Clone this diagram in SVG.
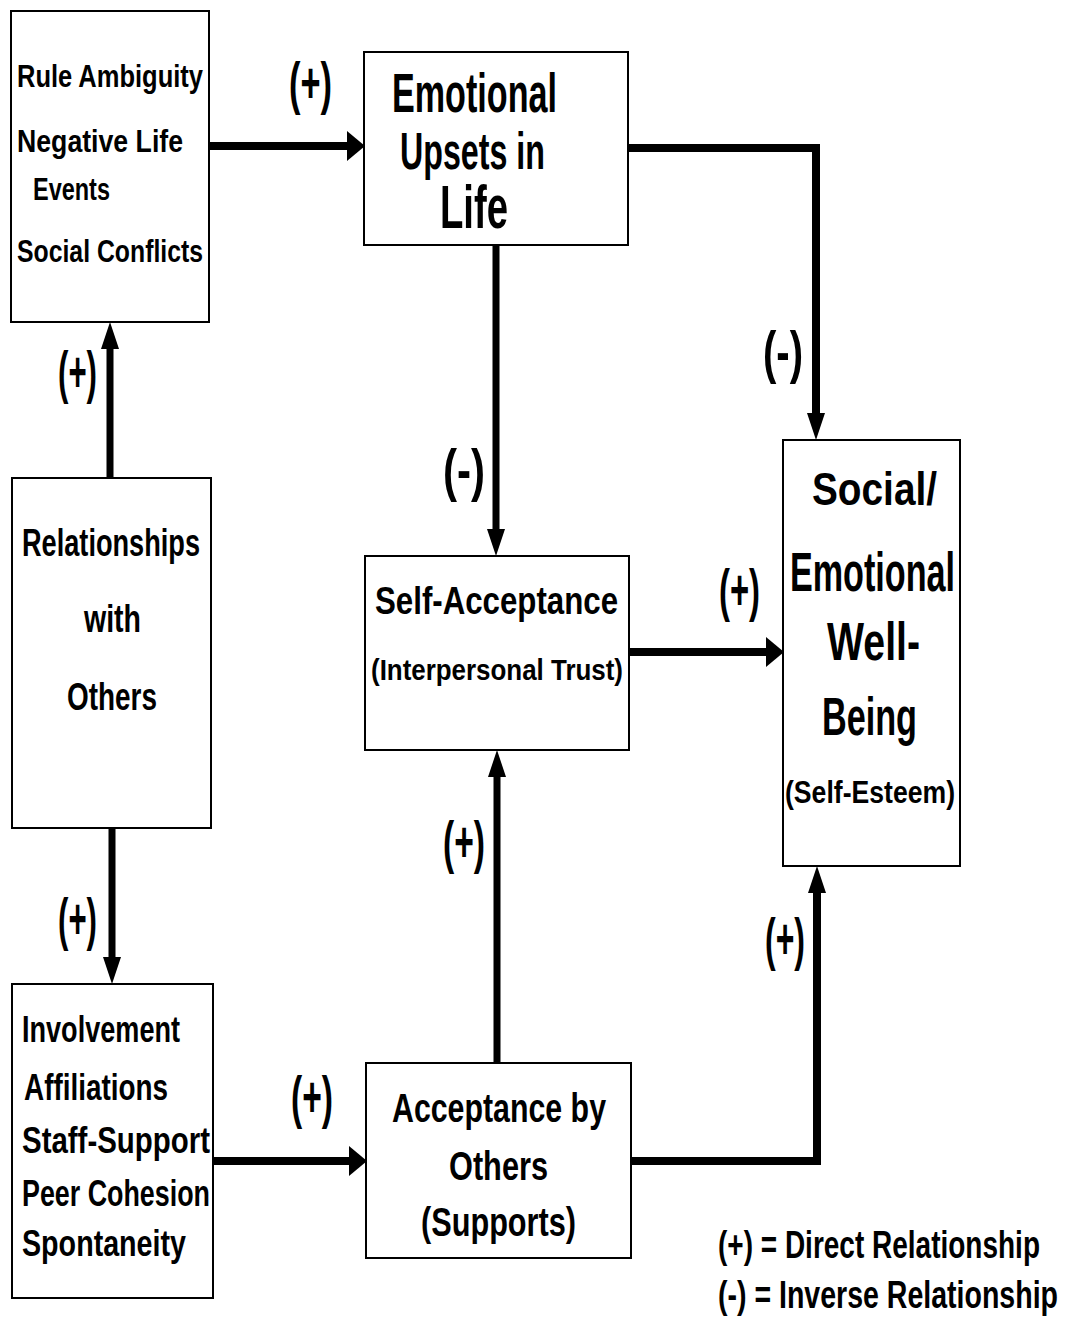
<svg xmlns="http://www.w3.org/2000/svg" width="1072" height="1324" viewBox="0 0 1072 1324">
<style>
.box{fill:#fff;stroke:#000;stroke-width:2}
.t{font-family:"Liberation Sans Narrow","Liberation Sans",Arial,sans-serif;font-weight:bold;fill:#000}
.c{fill:none;stroke:#000;stroke-width:8;stroke-linejoin:miter}
.v{stroke-width:7}
</style>
<defs>
<marker id="wide" markerUnits="userSpaceOnUse" viewBox="0 0 18 30" refX="0" refY="15" markerWidth="18" markerHeight="30" orient="auto">
<path d="M0,0 L18,15 L0,30 Z" fill="#000"/>
</marker>
<marker id="long" markerUnits="userSpaceOnUse" viewBox="0 0 27 18" refX="0" refY="9" markerWidth="27" markerHeight="18" orient="auto">
<path d="M0,0 L27,9 L0,18 Z" fill="#000"/>
</marker>
</defs>
<rect width="1072" height="1324" fill="#fff"/>

<g id="connectors">
<path class="c" d="M209,146 H347" marker-end="url(#wide)"/>
<path class="c" d="M628,148 H816 V413" marker-end="url(#long)"/>
<path class="c v" d="M496,245 V529" marker-end="url(#long)"/>
<path class="c" d="M629,652 H766" marker-end="url(#wide)"/>
<path class="c v" d="M497,1063 V777" marker-end="url(#long)"/>
<path class="c" d="M631,1161 H817 V893" marker-end="url(#long)"/>
<path class="c v" d="M110,478 V349" marker-end="url(#long)"/>
<path class="c v" d="M112,828 V957" marker-end="url(#long)"/>
<path class="c" d="M213,1161 H349" marker-end="url(#wide)"/>
</g>

<g id="stressors">
<rect class="box" x="11" y="11" width="198" height="311"/>
<text class="t" x="17" y="87" font-size="31" textLength="186" lengthAdjust="spacingAndGlyphs">Rule Ambiguity</text>
<text class="t" x="17" y="152" font-size="32" textLength="166" lengthAdjust="spacingAndGlyphs">Negative Life</text>
<text class="t" x="33" y="200" font-size="32" textLength="77" lengthAdjust="spacingAndGlyphs">Events</text>
<text class="t" x="17" y="262" font-size="32" textLength="186" lengthAdjust="spacingAndGlyphs">Social Conflicts</text>
</g>

<g id="upsets">
<rect class="box" x="364" y="52" width="264" height="193"/>
<text class="t" x="392" y="112" font-size="56" textLength="165" lengthAdjust="spacingAndGlyphs">Emotional</text>
<text class="t" x="400" y="169" font-size="52" textLength="145" lengthAdjust="spacingAndGlyphs">Upsets in</text>
<text class="t" x="440" y="228" font-size="62" textLength="68" lengthAdjust="spacingAndGlyphs">Life</text>
</g>

<g id="relationships">
<rect class="box" x="12" y="478" width="199" height="350"/>
<text class="t" x="22" y="556" font-size="38" textLength="178" lengthAdjust="spacingAndGlyphs">Relationships</text>
<text class="t" x="84" y="632" font-size="38" textLength="57" lengthAdjust="spacingAndGlyphs">with</text>
<text class="t" x="67" y="710" font-size="38" textLength="90" lengthAdjust="spacingAndGlyphs">Others</text>
</g>

<g id="involvement">
<rect class="box" x="12" y="984" width="201" height="314"/>
<text class="t" x="22" y="1042" font-size="36" textLength="158" lengthAdjust="spacingAndGlyphs">Involvement</text>
<text class="t" x="24" y="1100" font-size="36" textLength="144" lengthAdjust="spacingAndGlyphs">Affiliations</text>
<text class="t" x="22" y="1153" font-size="36" textLength="188" lengthAdjust="spacingAndGlyphs">Staff-Support</text>
<text class="t" x="22" y="1206" font-size="36" textLength="188" lengthAdjust="spacingAndGlyphs">Peer Cohesion</text>
<text class="t" x="22" y="1256" font-size="36" textLength="164" lengthAdjust="spacingAndGlyphs">Spontaneity</text>
</g>

<g id="self-acceptance">
<rect class="box" x="365" y="556" width="264" height="194"/>
<text class="t" x="375" y="614" font-size="38" textLength="243" lengthAdjust="spacingAndGlyphs">Self-Acceptance</text>
<text class="t" x="371" y="680" font-size="30" textLength="252" lengthAdjust="spacingAndGlyphs">(Interpersonal Trust)</text>
</g>

<g id="acceptance-by-others">
<rect class="box" x="366" y="1063" width="265" height="195"/>
<text class="t" x="392" y="1122" font-size="40" textLength="214" lengthAdjust="spacingAndGlyphs">Acceptance by</text>
<text class="t" x="449" y="1180" font-size="40" textLength="99" lengthAdjust="spacingAndGlyphs">Others</text>
<text class="t" x="421" y="1236" font-size="40" textLength="155" lengthAdjust="spacingAndGlyphs">(Supports)</text>
</g>

<g id="well-being">
<rect class="box" x="783" y="440" width="177" height="426"/>
<text class="t" x="812" y="505" font-size="46" textLength="125" lengthAdjust="spacingAndGlyphs">Social/</text>
<text class="t" x="790" y="591" font-size="55" textLength="165" lengthAdjust="spacingAndGlyphs">Emotional</text>
<text class="t" x="827" y="660" font-size="53" textLength="93" lengthAdjust="spacingAndGlyphs">Well-</text>
<text class="t" x="822" y="735" font-size="53" textLength="95" lengthAdjust="spacingAndGlyphs">Being</text>
<text class="t" x="785" y="803" font-size="32" textLength="170" lengthAdjust="spacingAndGlyphs">(Self-Esteem)</text>
</g>

<g id="labels">
<text class="t" x="289" y="103" font-size="58" textLength="43" lengthAdjust="spacingAndGlyphs">(+)</text>
<text class="t" x="763" y="372" font-size="58" textLength="40" lengthAdjust="spacingAndGlyphs">(-)</text>
<text class="t" x="58" y="392" font-size="58" textLength="39" lengthAdjust="spacingAndGlyphs">(+)</text>
<text class="t" x="443" y="490" font-size="58" textLength="42" lengthAdjust="spacingAndGlyphs">(-)</text>
<text class="t" x="719" y="610" font-size="58" textLength="41" lengthAdjust="spacingAndGlyphs">(+)</text>
<text class="t" x="443" y="862" font-size="58" textLength="42" lengthAdjust="spacingAndGlyphs">(+)</text>
<text class="t" x="765" y="959" font-size="58" textLength="40" lengthAdjust="spacingAndGlyphs">(+)</text>
<text class="t" x="58" y="939" font-size="58" textLength="39" lengthAdjust="spacingAndGlyphs">(+)</text>
<text class="t" x="291" y="1117" font-size="58" textLength="42" lengthAdjust="spacingAndGlyphs">(+)</text>
</g>

<g id="legend">
<text class="t" x="718" y="1258" font-size="39" textLength="322" lengthAdjust="spacingAndGlyphs">(+) = Direct Relationship</text>
<text class="t" x="718" y="1308" font-size="39" textLength="340" lengthAdjust="spacingAndGlyphs">(-) = Inverse Relationship</text>
</g>
</svg>
